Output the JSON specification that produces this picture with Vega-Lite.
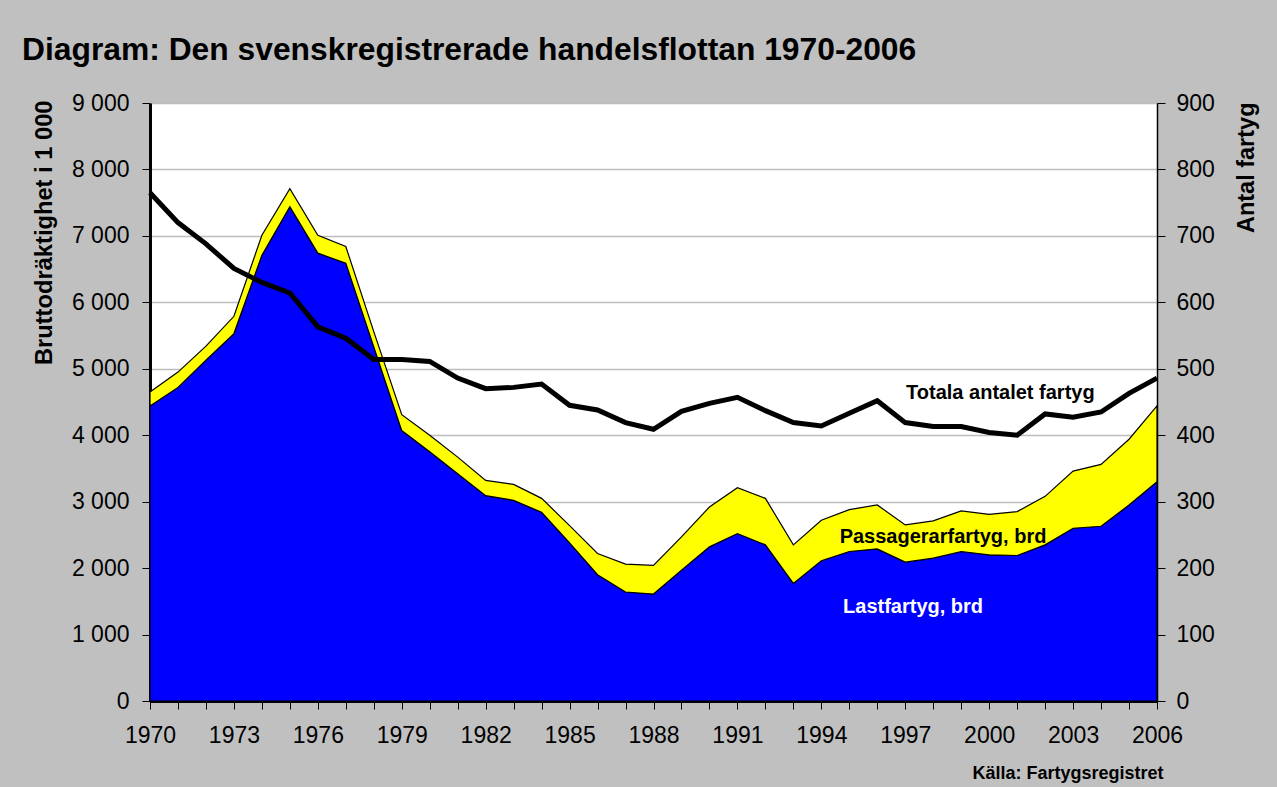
{
  "$schema": "https://vega.github.io/schema/vega-lite/v6.json",
  "width": 1007,
  "height": 598,
  "autosize": {"type": "none"},
  "padding": {"left": 150, "top": 103, "right": 120, "bottom": 86},
  "background": "#c0c0c0",
  "config": {
    "font": "Liberation Sans",
    "view": {"stroke": null, "fill": "white"}
  },
  "title": {
    "text": "Diagram: Den svenskregistrerade handelsflottan 1970-2006",
    "anchor": "start",
    "frame": "group",
    "dx": -128,
    "offset": 25,
    "fontSize": 31.8,
    "fontWeight": "bold",
    "font": "Liberation Sans",
    "color": "black"
  },
  "datasets": {
    "main": [
      {"year": 1970, "Lastfartyg": 4440, "Passagerarfartyg": 210, "Antal": 765},
      {"year": 1971, "Lastfartyg": 4720, "Passagerarfartyg": 230, "Antal": 720},
      {"year": 1972, "Lastfartyg": 5130, "Passagerarfartyg": 210, "Antal": 688},
      {"year": 1973, "Lastfartyg": 5530, "Passagerarfartyg": 260, "Antal": 651},
      {"year": 1974, "Lastfartyg": 6710, "Passagerarfartyg": 300, "Antal": 630},
      {"year": 1975, "Lastfartyg": 7440, "Passagerarfartyg": 270, "Antal": 614},
      {"year": 1976, "Lastfartyg": 6740, "Passagerarfartyg": 270, "Antal": 563},
      {"year": 1977, "Lastfartyg": 6590, "Passagerarfartyg": 250, "Antal": 546},
      {"year": 1978, "Lastfartyg": 5330, "Passagerarfartyg": 230, "Antal": 514},
      {"year": 1979, "Lastfartyg": 4070, "Passagerarfartyg": 240, "Antal": 514},
      {"year": 1980, "Lastfartyg": 3750, "Passagerarfartyg": 250, "Antal": 511},
      {"year": 1981, "Lastfartyg": 3420, "Passagerarfartyg": 250, "Antal": 486},
      {"year": 1982, "Lastfartyg": 3090, "Passagerarfartyg": 230, "Antal": 470},
      {"year": 1983, "Lastfartyg": 3020, "Passagerarfartyg": 240, "Antal": 472},
      {"year": 1984, "Lastfartyg": 2840, "Passagerarfartyg": 210, "Antal": 477},
      {"year": 1985, "Lastfartyg": 2380, "Passagerarfartyg": 260, "Antal": 445},
      {"year": 1986, "Lastfartyg": 1900, "Passagerarfartyg": 320, "Antal": 438},
      {"year": 1987, "Lastfartyg": 1640, "Passagerarfartyg": 420, "Antal": 419},
      {"year": 1988, "Lastfartyg": 1610, "Passagerarfartyg": 430, "Antal": 409},
      {"year": 1989, "Lastfartyg": 1970, "Passagerarfartyg": 500, "Antal": 436},
      {"year": 1990, "Lastfartyg": 2320, "Passagerarfartyg": 600, "Antal": 448},
      {"year": 1991, "Lastfartyg": 2520, "Passagerarfartyg": 690, "Antal": 457},
      {"year": 1992, "Lastfartyg": 2350, "Passagerarfartyg": 700, "Antal": 437},
      {"year": 1993, "Lastfartyg": 1770, "Passagerarfartyg": 580, "Antal": 419},
      {"year": 1994, "Lastfartyg": 2110, "Passagerarfartyg": 610, "Antal": 414},
      {"year": 1995, "Lastfartyg": 2250, "Passagerarfartyg": 630, "Antal": 433},
      {"year": 1996, "Lastfartyg": 2290, "Passagerarfartyg": 660, "Antal": 452},
      {"year": 1997, "Lastfartyg": 2090, "Passagerarfartyg": 560, "Antal": 419},
      {"year": 1998, "Lastfartyg": 2150, "Passagerarfartyg": 560, "Antal": 413},
      {"year": 1999, "Lastfartyg": 2250, "Passagerarfartyg": 610, "Antal": 413},
      {"year": 2000, "Lastfartyg": 2200, "Passagerarfartyg": 610, "Antal": 404},
      {"year": 2001, "Lastfartyg": 2190, "Passagerarfartyg": 660, "Antal": 400},
      {"year": 2002, "Lastfartyg": 2350, "Passagerarfartyg": 730, "Antal": 432},
      {"year": 2003, "Lastfartyg": 2600, "Passagerarfartyg": 860, "Antal": 427},
      {"year": 2004, "Lastfartyg": 2630, "Passagerarfartyg": 930, "Antal": 435},
      {"year": 2005, "Lastfartyg": 2950, "Passagerarfartyg": 990, "Antal": 463},
      {"year": 2006, "Lastfartyg": 3300, "Passagerarfartyg": 1140, "Antal": 486}
    ],
    "labelsBlack": [
      {"year": 2000.4, "brt": 4636, "label": "Totala antalet fartyg"},
      {"year": 1998.35, "brt": 2468, "label": "Passagerarfartyg, brd"}
    ],
    "labelsWhite": [
      {"year": 1997.28, "brt": 1415, "label": "Lastfartyg, brd"}
    ]
  },
  "encoding": {
    "x": {
      "field": "year",
      "type": "quantitative",
      "scale": {"domain": [1970, 2006], "nice": false, "zero": false},
      "axis": {
        "values": [1970,1971,1972,1973,1974,1975,1976,1977,1978,1979,1980,1981,1982,1983,1984,1985,1986,1987,1988,1989,1990,1991,1992,1993,1994,1995,1996,1997,1998,1999,2000,2001,2002,2003,2004,2005,2006],
        "labelExpr": "(datum.value - 1970) % 3 === 0 ? format(datum.value, 'd') : ''",
        "labelOverlap": false,
        "labelFlush": false,
        "labelFontSize": 23,
        "labelColor": "black",
        "labelPadding": 15,
        "tickSize": 8,
        "tickColor": "black",
        "tickWidth": 1,
        "domainColor": "black",
        "domainWidth": 3,
        "grid": false,
        "title": "Källa: Fartygsregistret",
        "titleFontSize": 18,
        "titleFontWeight": "bold",
        "titleColor": "black",
        "titleX": 1013,
        "titleY": 72,
        "titleAlign": "right",
        "titleBaseline": "middle",
        "titleAnchor": "end"
      }
    }
  },
  "layer": [
    {
      "layer": [
        {
          "data": {"name": "main"},
          "transform": [{"fold": ["Lastfartyg", "Passagerarfartyg"], "as": ["typ", "brt"]}],
          "mark": {"type": "area", "stroke": "black", "strokeWidth": 1.2, "strokeJoin": "miter"},
          "encoding": {
            "y": {
              "field": "brt",
              "type": "quantitative",
              "stack": "zero",
              "scale": {"domain": [0, 9000], "nice": false},
              "axis": {
                "values": [0,1000,2000,3000,4000,5000,6000,7000,8000,9000],
                "labelExpr": "replace(format(datum.value, ','), ',', ' ')",
                "labelFontSize": 23,
                "labelColor": "black",
                "labelPadding": 13,
                "tickSize": 8,
                "tickColor": "black",
                "domainColor": "black",
                "domainWidth": 3,
                "grid": true,
                "gridColor": "#bdbdbd",
                "gridWidth": 1.5,
                "title": "Bruttodräktighet i 1 000",
                "titleFontSize": 23.7,
                "titleFontWeight": "bold",
                "titleColor": "black",
                "titleAngle": 270,
                "titleAlign": "right",
                "titleBaseline": "middle",
                "titleX": -106,
                "titleY": -3
              }
            },
            "color": {
              "field": "typ",
              "type": "nominal",
              "scale": {"domain": ["Lastfartyg", "Passagerarfartyg"], "range": ["#0000ff", "#ffff00"]},
              "legend": null
            },
            "order": {"field": "typ", "sort": "ascending"}
          }
        },
        {
          "data": {"name": "labelsBlack"},
          "mark": {"type": "text", "fontSize": 20, "fontWeight": "bold", "color": "black", "align": "center", "baseline": "middle"},
          "encoding": {
            "y": {"field": "brt", "type": "quantitative"},
            "text": {"field": "label"}
          }
        },
        {
          "data": {"name": "labelsWhite"},
          "mark": {"type": "text", "fontSize": 20, "fontWeight": "bold", "color": "white", "align": "center", "baseline": "middle"},
          "encoding": {
            "y": {"field": "brt", "type": "quantitative"},
            "text": {"field": "label"}
          }
        }
      ]
    },
    {
      "data": {"name": "main"},
      "mark": {"type": "line", "color": "black", "strokeWidth": 5},
      "encoding": {
        "y": {
          "field": "Antal",
          "type": "quantitative",
          "scale": {"domain": [0, 900], "nice": false},
          "axis": {
            "orient": "right",
            "values": [0,100,200,300,400,500,600,700,800,900],
            "format": "d",
            "labelFontSize": 23,
            "labelColor": "black",
            "labelPadding": 11,
            "tickSize": 8,
            "tickColor": "black",
            "domainColor": "black",
            "domainWidth": 1.5,
            "grid": false,
            "title": "Antal fartyg",
            "titleFontSize": 23.5,
            "titleFontWeight": "bold",
            "titleColor": "black",
            "titleAngle": 270,
            "titleAlign": "right",
            "titleBaseline": "middle",
            "titleX": 89,
            "titleY": -1
          }
        }
      }
    }
  ],
  "resolve": {"scale": {"y": "independent"}, "axis": {"y": "independent"}}
}
